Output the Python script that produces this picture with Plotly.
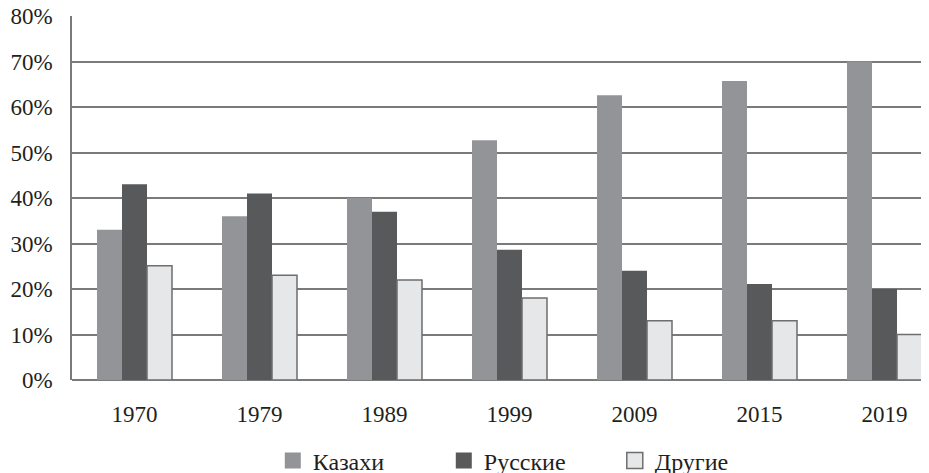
import plotly.graph_objects as go

years = ["1970", "1979", "1989", "1999", "2009", "2015", "2019"]
kazakhs = [33, 36, 40, 52.7, 62.6, 65.7, 70]
russians = [43, 41, 37, 28.6, 24, 21.1, 20]
others = [25.1, 23, 22, 18, 13, 13, 10]
y_ticks = [0, 10, 20, 30, 40, 50, 60, 70, 80]
y_tick_text = [f"{v}%" for v in y_ticks]

names = ["Казахи", "Русские", "Другие"]
colors = ["#939497", "#58595b", "#e6e7e8"]
outline = ["rgba(0,0,0,0)", "rgba(0,0,0,0)", "#6e6e6e"]
series = [kazakhs, russians, others]

FONT = "Liberation Serif"
TXT = "#231f20"

fig = go.Figure()
for name, vals, c, oc in zip(names, series, colors, outline):
    fig.add_trace(go.Bar(
        x=years, y=vals, name=name, showlegend=False,
        marker=dict(color=c, line=dict(color=oc, width=1.5 if oc != outline[0] else 0)),
    ))
# legend-only entries
for name, c, oc in zip(names, colors, outline):
    fig.add_trace(go.Scatter(
        x=[None], y=[None], mode="markers", name=name,
        marker=dict(symbol="square", size=16, color=c,
                    line=dict(color=oc, width=1.5 if oc != outline[0] else 0)),
    ))

# page body has an 8px margin, so the figure is sized/offset to compensate
fig.update_layout(
    width=921, height=465,
    margin=dict(l=64, r=0, t=8, b=93, autoexpand=False),
    paper_bgcolor="white", plot_bgcolor="white",
    barmode="group", bargap=0.4, bargroupgap=0,
    font=dict(family=FONT, size=22, color=TXT),
    showlegend=True,
    legend=dict(orientation="h", xref="container", yref="container",
                x=0.566, xanchor="center", y=0.026, yanchor="middle",
                font=dict(family=FONT, size=24, color=TXT),
                entrywidth=126, entrywidthmode="pixels", itemwidth=30),
)
fig.update_xaxes(
    type="category", range=[-0.5, 6.356], showgrid=False, showline=False,
    automargin=False,
    ticks="", ticklabelstandoff=18, tickfont=dict(family=FONT, size=23, color=TXT),
)
fig.update_yaxes(
    range=[0, 80], tickvals=y_ticks, ticktext=y_tick_text,
    automargin=False, ticklabeloverflow="allow",
    showgrid=True, gridcolor="#7a7a7a", gridwidth=1.5,
    zeroline=True, zerolinecolor="#7a7a7a", zerolinewidth=1.5,
    showline=True, linecolor="#7a7a7a", linewidth=1.5,
    ticks="", ticklabelstandoff=13, tickfont=dict(family=FONT, size=23, color=TXT),
)

fig.write_html("out.html")
